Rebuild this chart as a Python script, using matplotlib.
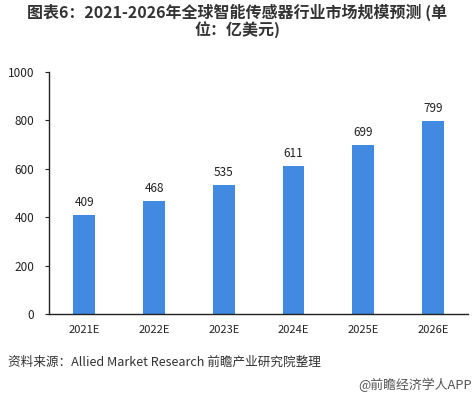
import matplotlib
matplotlib.use('Agg')
import matplotlib.pyplot as plt

plt.rcParams['font.family'] = ['Noto Sans CJK SC', 'DejaVu Sans']

years = ['2021E', '2022E', '2023E', '2024E', '2025E', '2026E']
market_size = [409, 468, 535, 611, 699, 799]
yticks = [0, 200, 400, 600, 800, 1000]

fig = plt.figure(figsize=(4.75, 3.98), dpi=100)
ax = fig.add_axes([0.104, 0.211, 0.881, 0.608])

bars = ax.bar(years, market_size, width=0.31, color='#4189E1')
for b, v in zip(bars, market_size):
    ax.text(b.get_x() + b.get_width() / 2, v + 25, str(v),
            ha='center', va='bottom', fontsize=8.5, color='#222222')

ax.set_xlim(-0.5, 5.5)
ax.set_ylim(0, 1000)
ax.set_yticks(yticks)
ax.tick_params(axis='y', length=3, labelsize=8.5, colors='#222222', pad=8)
ax.tick_params(axis='x', length=0, labelsize=8, colors='#222222', pad=8)
for s in ['top', 'right']:
    ax.spines[s].set_visible(False)
for s in ['left', 'bottom']:
    ax.spines[s].set_color('#222222')
    ax.spines[s].set_linewidth(1)

fig.text(0.5, 0.948, '图表6：2021-2026年全球智能传感器行业市场规模预测 (单\n位：亿美元)',
         ha='center', va='center', fontsize=11.5, fontweight='bold',
         color='#333333', linespacing=1.05)
fig.text(0.017, 0.09, '资料来源：Allied Market Research 前瞻产业研究院整理',
         ha='left', va='center', fontsize=9.1, color='#333333')
fig.text(0.993, 0.033, '@前瞻经济学人APP', ha='right', va='center',
         fontsize=9.3, color='#555555')

fig.savefig('out.png', dpi=100)
